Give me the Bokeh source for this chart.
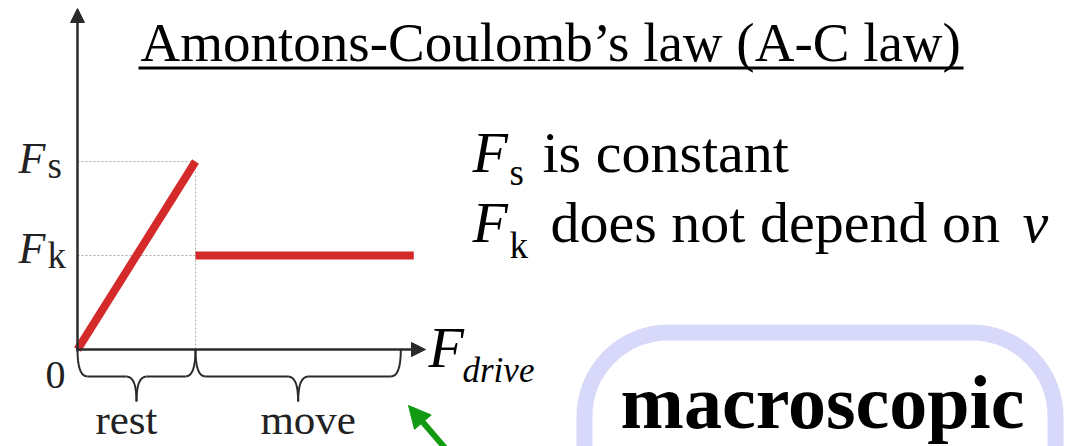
from bokeh.plotting import figure
from bokeh.models import Range1d, Label, Arrow, NormalHead, BoxAnnotation
from bokeh.embed import file_html
from bokeh.resources import INLINE

# ---------------- data ----------------
x_static = [0.0, 1.0]          # F_drive while at rest (slip at 1)
f_static = [0.0, 1.0]          # friction grows linearly up to Fs
x_kinetic = [1.0, 2.85]        # F_drive while moving
f_kinetic = [0.5, 0.5]         # constant kinetic friction Fk
Fs = 1.0
Fk = 0.5
x_slip = 1.0
level_values = [Fs, Fk]
level_subs = ["s", "k"]
regime_labels = ["rest", "move"]
regime_start = [0.0, 1.0]
regime_end = [1.0, 2.74]
title_text = "Amontons-Coulomb\u2019s law (A-C law)"
statement_subs = ["s", "k"]
statement_texts = ["is constant", "does not depend on"]
box_text = "macroscopic"

# ---------------- layout helpers (pixel -> data) ----------------
X0, Y0, SX, SY = 77.0, 349.0, 118.0, 188.0
def dx(px):
    return (px - X0) / SX
def dy(py):
    return (Y0 - py) / SY

W, H = 1079, 446
p = figure(width=W, height=H, output_backend="svg", toolbar_location=None,
           x_range=Range1d(dx(0), dx(W)), y_range=Range1d(dy(H), dy(0)),
           x_axis_location=None, y_axis_location=None, min_border=0,
           outline_line_color=None, background_fill_color="white")
p.grid.visible = False

SERIF = "Liberation Serif"
AX = "#2b2b2b"
RED = "#d42a2a"
SHIFT = 0.35  # compensation of the renderer's baseline placement (in em)

def lab(xp, base, text, size, style="normal", align="left", color="black", xoff=0):
    p.add_layout(Label(x=dx(xp), y=dy(base - SHIFT * size), text=text, text_align=align,
                       text_baseline="alphabetic", x_offset=xoff, text_font=SERIF,
                       text_font_style=style, text_font_size=f"{size}px", text_color=color))

# guide dotted lines
p.segment(x0=[0, 0, x_slip], y0=[Fs, Fk, 0], x1=[x_slip, x_slip, x_slip], y1=[Fs, Fk, Fs],
          line_color="#a8a8a8", line_width=1, line_dash="2 2")

# axes with arrow heads
p.add_layout(Arrow(x_start=0, y_start=dy(351), x_end=0, y_end=dy(8),
                   line_color=AX, line_width=2.5,
                   end=NormalHead(size=14, fill_color=AX, line_color=AX, line_width=1)))
p.add_layout(Arrow(x_start=dx(76), y_start=0, x_end=dx(425), y_end=0,
                   line_color=AX, line_width=2.5,
                   end=NormalHead(size=14, fill_color=AX, line_color=AX, line_width=1)))

# friction curves
p.line(x_static, f_static, line_color=RED, line_width=8)
p.line(x_kinetic, f_kinetic, line_color=RED, line_width=8)

# braces under the x axis
r = 10 / SX
d1 = 27 / SY
d2 = 52 / SY
qx0, qy0, qx1, qy1, qcx, qcy = [], [], [], [], [], []
sx0, sy0, sx1, sy1 = [], [], [], []
for a, b in zip(regime_start, regime_end):
    m = (a + b) / 2
    for (x0_, y0_, x1_, y1_, cx_, cy_) in [
        (a, 0, a + r, -d1, a, -d1),
        (m - r, -d1, m, -d2, m, -d1),
        (m, -d2, m + r, -d1, m, -d1),
        (b - r, -d1, b, 0, b, -d1),
    ]:
        qx0.append(x0_); qy0.append(y0_); qx1.append(x1_); qy1.append(y1_)
        qcx.append(cx_); qcy.append(cy_)
    sx0 += [a + r, m + r]; sy0 += [-d1, -d1]; sx1 += [m - r, b - r]; sy1 += [-d1, -d1]
p.quadratic(x0=qx0, y0=qy0, x1=qx1, y1=qy1, cx=qcx, cy=qcy, line_color=AX, line_width=2)
p.segment(x0=sx0, y0=sy0, x1=sx1, y1=sy1, line_color=AX, line_width=2)

for name, a, b, off in zip(regime_labels, regime_start, regime_end, [-10, 10]):
    lab(X0 + (a + b) / 2 * SX, 434, name, 43, align="center", color="#222222", xoff=off)

# axis labels
lab(45, 388, "0", 40, color="#222222")
for v, sub, base_off in zip(level_values, level_subs, [12, 8]):
    base = Y0 - v * SY + base_off
    lab(18, base, "F", 44, style="italic", color="#222222")
    lab(47, base + 5, sub, 37, color="#222222")

lab(428, 367, "F", 58, style="italic")
lab(462, 382, "drive", 35, style="italic")

# title with underline
lab(140, 61, title_text, 55)
p.line([dx(138), dx(963)], [dy(67.5), dy(67.5)], line_color="black", line_width=3)

# statements
for i, (sub, txt) in enumerate(zip(statement_subs, statement_texts)):
    yb = [172, 242][i]
    lab(472, yb, "F", 58, style="italic")
    lab(509, yb + [13, 16][i], sub, 37)
    lab([542, 550][i], yb, txt, 58)
lab(1022, 242, "v", 58, style="italic")

# green pointer arrow
GREEN = "#129a12"
p.add_layout(Arrow(x_start=dx(451), y_start=dy(455), x_end=dx(408), y_end=dy(405),
                   line_color=GREEN, line_width=6,
                   end=NormalHead(size=22, fill_color=GREEN, line_color=GREEN, line_width=1)))

# macroscopic rounded box
p.add_layout(BoxAnnotation(left=dx(584), right=dx(1055), top=dy(332), bottom=dy(700),
                           fill_alpha=0, line_color="#d8d8fb", line_width=16, line_alpha=1,
                           border_radius=84))
lab(822, 428, box_text, 76, style="bold", align="center")

open("out.html", "w").write(file_html(p, INLINE))
